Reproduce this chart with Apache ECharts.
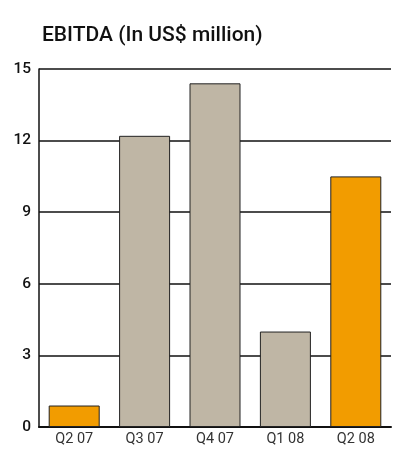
<!DOCTYPE html>
<html>
<head>
<meta charset="utf-8">
<script src="https://cdn.jsdelivr.net/npm/echarts@6/dist/echarts.min.js"></script>
<style>
  html, body { margin: 0; padding: 0; background: #fff; }
  #chart { width: 398px; height: 462px; }
</style>
</head>
<body>
<div id="chart"></div>
<script>
var quarters = ['Q2 07', 'Q3 07', 'Q4 07', 'Q1 08', 'Q2 08'];
var ebitda = [0.9, 12.2, 14.4, 4.0, 10.5];
var highlighted = [true, false, false, false, true];

var myChart = echarts.init(document.getElementById('chart'));
var option = {
    backgroundColor: '#fff',
    animation: false,
    title: {
        text: 'EBITDA (In US$ million)',
        left: 37,
        top: 20,
        textStyle: { fontFamily: 'Roboto', fontSize: 21, fontWeight: 500, color: '#111' }
    },
    grid: { left: 39, right: 7, top: 69, bottom: 35 },
    xAxis: {
        type: 'category',
        data: quarters,
        axisLine: { lineStyle: { color: '#111', width: 2 } },
        axisTick: { show: false },
        axisLabel: { color: '#333', fontSize: 14.5, fontFamily: 'Roboto', margin: 5 }
    },
    yAxis: {
        type: 'value',
        min: 0,
        max: 15,
        interval: 3,
        axisLine: { show: true, lineStyle: { color: '#111', width: 1.5 } },
        axisTick: { show: false },
        axisLabel: { color: '#111', fontSize: 15.5, fontWeight: 500, fontFamily: 'Roboto', margin: 8 },
        splitLine: { lineStyle: { color: '#111', width: 1.5 } }
    },
    series: [{
        type: 'bar',
        barWidth: 51,
        data: ebitda.map(function (v, i) {
            return {
                value: v,
                itemStyle: { color: highlighted[i] ? '#f29c00' : '#bfb6a5' }
            };
        }),
        itemStyle: { borderColor: '#222', borderWidth: 1 }
    }]
};
myChart.setOption(option);
</script>
</body>
</html>
